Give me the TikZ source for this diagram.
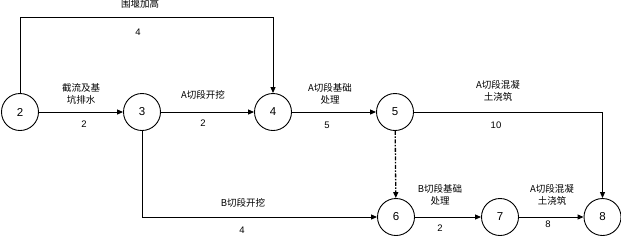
\documentclass[tikz,border=0pt]{standalone}
\usepackage{fontspec}
\setmainfont{Liberation Sans}
\newfontfamily\cjk{Noto Sans CJK SC}
\usetikzlibrary{arrows.meta}
\begin{document}
\begin{tikzpicture}[x=1pt,y=-1pt,
  ev/.style={circle,draw,line width=0.9pt,minimum size=37pt,inner sep=0pt,font=\fontsize{11.5}{11.5}\selectfont},
  act/.style={line width=1pt,-{Triangle[length=6pt,width=5pt]}},
  lbl/.style={font=\cjk\fontsize{9.5}{12}\selectfont,align=center,inner sep=0pt},
  num/.style={font=\fontsize{9.5}{9.5}\selectfont,inner sep=0pt}]
\useasboundingbox (0,0) rectangle (621,242);
\node[ev] (n2) at (20,112) {2};
\node[ev] (n3) at (142,112) {3};
\node[ev] (n4) at (273,112) {4};
\node[ev] (n5) at (395,112) {5};
\node[ev] (n6) at (396,217) {6};
\node[ev] (n7) at (500,217) {7};
\node[ev] (n8) at (602.5,217) {8};
\coordinate (c1) at (20,17);
\coordinate (c2) at (273,17);
\coordinate (c3) at (602.5,112);
\coordinate (c4) at (142,217);
\draw[act] (n2.north) -- (c1) -- (c2) -- (n4.north);
\draw[act] (n2) -- (n3);
\draw[act] (n3) -- (n4);
\draw[act] (n4) -- (n5);
\draw[act] (n5.east) -- (c3) -- (n8.north);
\draw[act] (n3.south) -- (c4) -- (n6.west);
\draw[act,line width=1.3pt,dash pattern=on 4pt off 1.5pt on 1.5pt off 1.5pt] (n5) -- (n6);
\draw[act] (n6) -- (n7);
\draw[act] (n7) -- (n8);
\node[lbl] (t1) at (140,4) {围堰加高};
\node[num] (m1) at (138,32) {4};
\node[lbl] (t2) at (81,94) {截流及基\\坑排水};
\node[num] (m2) at (84,124) {2};
\node[lbl] (t3) at (203,95) {A切段开挖};
\node[num] (m3) at (203,123) {2};
\node[lbl] (t4) at (330,94) {A切段基础\\处理};
\node[num] (m4) at (327,125) {5};
\node[lbl] (t5) at (498,91) {A切段混凝\\土浇筑};
\node[num] (m5) at (496,125) {10};
\node[lbl] (t6) at (243,203) {B切段开挖};
\node[num] (m6) at (242,230) {4};
\node[lbl] (t7) at (440,195) {B切段基础\\处理};
\node[num] (m7) at (440,228) {2};
\node[lbl] (t8) at (552,195) {A切段混凝\\土浇筑};
\node[num] (m8) at (548,224) {8};
\end{tikzpicture}
\end{document}
